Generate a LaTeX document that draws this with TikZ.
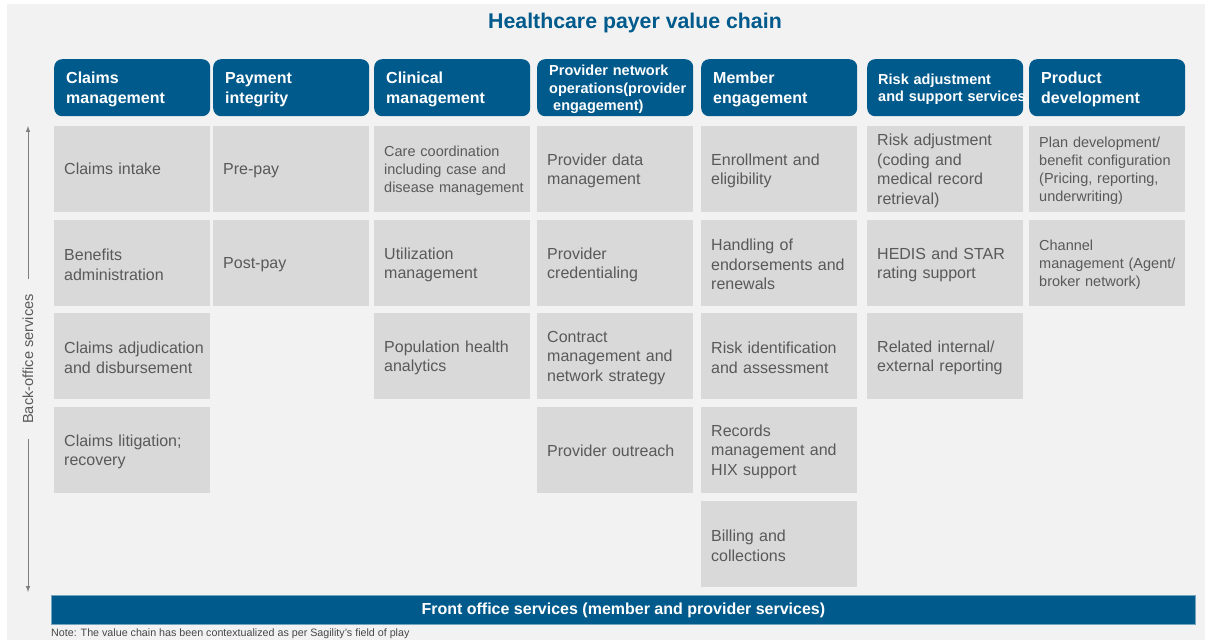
\documentclass[tikz,border=0pt]{standalone}
\usepackage{fontspec}
\setmainfont{Liberation Sans}

\definecolor{bgGray}{HTML}{F2F2F2}
\definecolor{cellGray}{HTML}{D9D9D9}
\definecolor{txtGray}{HTML}{595959}
\definecolor{lineGray}{HTML}{7F7F7F}
\definecolor{chainBlue}{HTML}{005A8C}

\hyphenpenalty=10000
\exhyphenpenalty=10000

\tikzset{
  head/.style={anchor=north west, fill=chainBlue, rounded corners=8pt,
    minimum width=156pt, minimum height=57pt, text width=132pt,
    inner xsep=12pt, inner ysep=0pt, align=left, text=white,
    font=\fontsize{16}{20}\selectfont\bfseries,
    execute at end node={\par\vspace{-3.4pt}}},
  smallhead/.style={font=\fontsize{14.5}{17.5}\selectfont\bfseries},
  cell/.style={anchor=north west, fill=cellGray,
    minimum width=156pt, minimum height=86pt, text width=136pt,
    inner xsep=10pt, inner ysep=0pt, align=left, text=txtGray,
    font=\fontsize{16}{19.5}\selectfont,
    execute at end node={\par\vspace{-3pt}}},
  smalltext/.style={font=\fontsize{14.5}{18}\selectfont}
}

\begin{document}
\begin{tikzpicture}[x=1pt,y=-1pt]
\useasboundingbox (0,0) rectangle (1205,640);
\fill[white] (0,0) rectangle (1205,640);
\fill[bgGray] (7,4) rectangle (1205,640);

\node[text=chainBlue, font=\fontsize{21.3}{24}\selectfont\bfseries] (title) at (635,23) {Healthcare payer value chain};

% column heads
\node[head] (claims) at (54,59) {Claims\\management};
\node[head] (payment) at (213,59) {Payment\\integrity};
\node[head] (clinical) at (374,59) {Clinical\\management};
\node[head, smallhead] (provider) at (537,59) {Provider network\\operations(provider\\\hspace*{4pt}engagement)};
\node[head] (member) at (701,59) {Member\\engagement};
\node[head, smallhead, inner xsep=11pt, text width=134pt] (risk) at (867,59) {Risk adjustment\\and~support~services};
\node[head] (product) at (1029,59) {Product\\development};

% claims management
\node[cell] (intake) at (54,126) {Claims intake};
\node[cell] (benefits) at (54,220) {Benefits\\administration};
\node[cell] (adjudication) at (54,313) {Claims~adjudication\\and disbursement};
\node[cell] (litigation) at (54,407) {Claims litigation;\\recovery};

% payment integrity
\node[cell] (prepay) at (213,126) {Pre-pay};
\node[cell] (postpay) at (213,220) {Post-pay};

% clinical management
\node[cell, smalltext] (carecoord) at (374,126) {Care coordination\\including case and\\disease~management};
\node[cell] (utilization) at (374,220) {Utilization\\management};
\node[cell] (pophealth) at (374,313) {Population health\\analytics};

% provider network
\node[cell] (provdata) at (537,126) {Provider data\\management};
\node[cell] (credential) at (537,220) {Provider\\credentialing};
\node[cell] (contract) at (537,313) {Contract\\management and\\network strategy};
\node[cell] (outreach) at (537,407) {Provider outreach};

% member engagement
\node[cell] (enrollment) at (701,126) {Enrollment and\\eligibility};
\node[cell] (endorse) at (701,220) {Handling of\\endorsements and\\renewals};
\node[cell] (riskid) at (701,313) {Risk identification\\and assessment};
\node[cell] (records) at (701,407) {Records\\management and\\HIX support};
\node[cell] (billing) at (701,501) {Billing and\\collections};

% risk adjustment
\node[cell] (riskadj) at (867,126) {Risk adjustment\\(coding and\\medical record\\retrieval)};
\node[cell] (hedis) at (867,220) {HEDIS and STAR\\rating support};
\node[cell] (reporting) at (867,313) {Related internal/\\external reporting};

% product development
\node[cell, smalltext] (plandev) at (1029,126) {Plan development/\\benefit configuration\\(Pricing, reporting,\\underwriting)};
\node[cell, smalltext] (channel) at (1029,220) {Channel\\management~(Agent/\\broker network)};

% back office arrow
\coordinate (boTop) at (28,126);
\coordinate (boBottom) at (28,592);
\draw[lineGray, line width=1pt, <->, >=latex] (boTop) -- (boBottom)
  node[midway, rotate=90, fill=bgGray, inner xsep=15pt, inner ysep=2pt, text=txtGray, font=\fontsize{14.6}{17}\selectfont] (backoffice) {Back-office services};

% front office bar
\node[anchor=north west, fill=chainBlue, draw=chainBlue!55, line width=0.8pt, minimum width=1144pt, minimum height=29pt, inner sep=0pt, text=white, font=\fontsize{16}{19}\selectfont\bfseries] (front) at (51,595) {Front office services (member and provider services)};

\node[anchor=west, inner sep=0pt, text=txtGray!80!black, font=\fontsize{10.7}{12}\selectfont] (note) at (51,634) {Note: The value chain has been contextualized as per Sagility's field of play};
\end{tikzpicture}
\end{document}
